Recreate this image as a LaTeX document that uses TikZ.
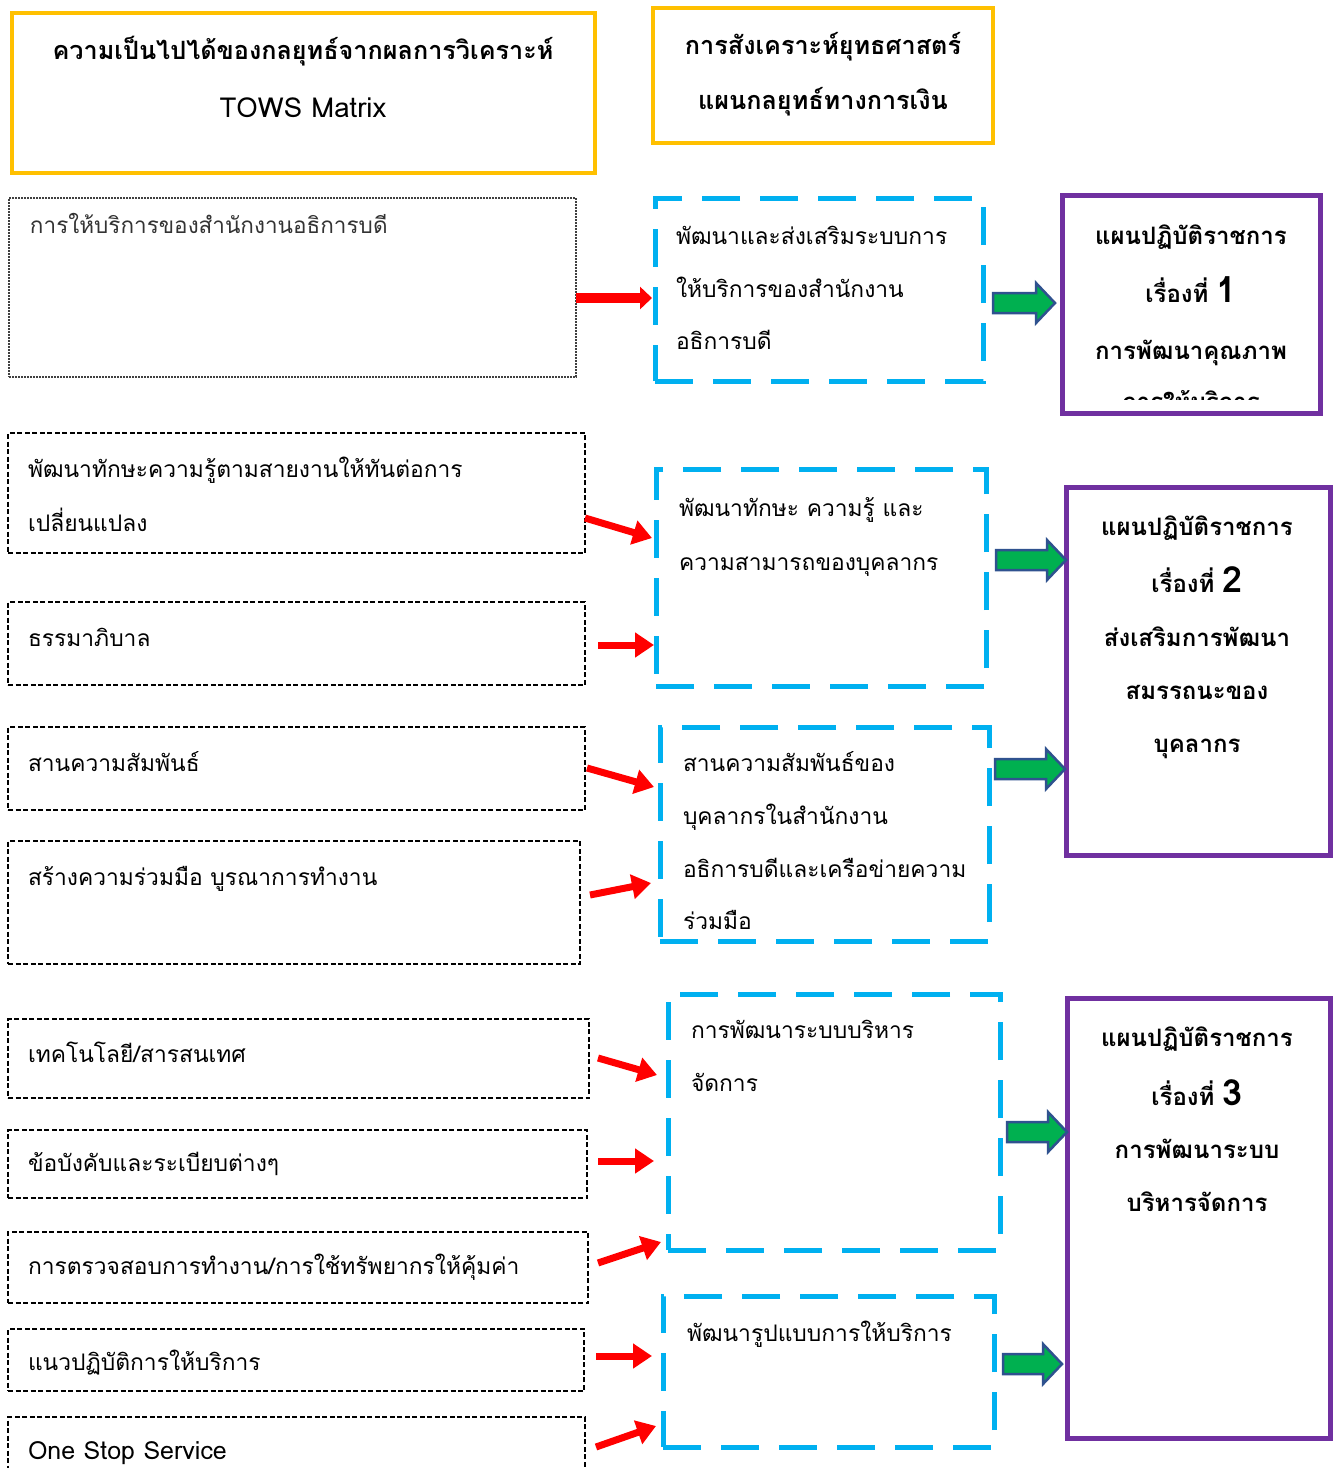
\documentclass[tikz,border=0pt]{standalone}
\usepackage{fontspec}
\newfontfamily\thai[Script=Thai]{Loma}
\usetikzlibrary{arrows.meta}
\definecolor{tyellow}{HTML}{FFC000}
\definecolor{tcyan}{HTML}{00B0F0}
\definecolor{tpurple}{HTML}{7030A0}
\definecolor{tgreen}{HTML}{00B050}
\definecolor{tgline}{HTML}{2F528F}
\definecolor{tred}{HTML}{FF0000}
\newcommand\garrow[4]{%
  \coordinate (#1s) at (#2,#4); \coordinate (#1e) at (#3,#4);
  \filldraw[garrowst] (#2,#4-10) -- (#3-19,#4-10) -- (#3-19,#4-20) -- (#1e) -- (#3-19,#4+20) -- (#3-19,#4+10) -- (#2,#4+10) -- cycle;}
\begin{document}
\begin{tikzpicture}[x=1pt,y=-1pt,
  every node/.style={inner sep=0pt, outer sep=0pt},
  ybox/.style={draw=tyellow, line width=4.5pt, anchor=north west},
  cbox/.style={draw=tcyan, line width=5pt, dash pattern=on 38pt off 20pt, anchor=north west},
  pbox/.style={draw=tpurple, line width=5pt, anchor=north west},
  lbox/.style={draw=black, line width=1.3pt, dash pattern=on 5pt off 2.5pt, anchor=north west},
  gbox/.style={draw=black!75, line width=2.2pt, dash pattern=on 2pt off 1pt, anchor=north west},
  txt/.style={anchor=base west, font=\thai\fontsize{22.8}{28}\selectfont},
  stxt/.style={anchor=base west, font=\thai\fontsize{22.5}{26}\selectfont, text=black!80},
  htxt/.style={anchor=base, font=\thai\bfseries\fontsize{24}{28}\selectfont},
  hhtxt/.style={anchor=base, font=\thai\bfseries\fontsize{25.2}{28}\selectfont},
  redarr/.style={draw=tred, line width=7pt, -{Triangle[length=19pt,width=24pt]}},
  garrowst/.style={fill=tgreen, draw=tgline, line width=2.5pt},
]
\useasboundingbox (0,0) rectangle (1339,1468);
\fill[white] (0,0) rectangle (1339,1468);

% header boxes
\node[ybox, minimum width=583pt, minimum height=160pt] (Y1) at (12,13) {};
\node[hhtxt] (Y1a) at (303,59) {ความเป็นไปได้ของกลยุทธ์จากผลการวิเคราะห์};
\node[anchor=base, font=\thai\fontsize{27.5}{30}\selectfont] (Y1b) at (303,117) {TOWS Matrix};
\node[ybox, minimum width=340pt, minimum height=135pt] (Y2) at (653,8) {};
\node[hhtxt] (Y2a) at (823,54) {การสังเคราะห์ยุทธศาสตร์};
\node[hhtxt] (Y2b) at (823,109) {แผนกลยุทธ์ทางการเงิน};

% left boxes
\node[gbox, minimum width=567pt, minimum height=179pt] (L1) at (9,198) {};
\node[stxt] (L1t) at (30,233) {การให้บริการของสำนักงานอธิการบดี};
\node[lbox, minimum width=577pt, minimum height=120pt] (L2) at (8,433) {};
\node[txt] (L2a) at (28,477) {พัฒนาทักษะความรู้ตามสายงานให้ทันต่อการ};
\node[txt] (L2b) at (28,531) {เปลี่ยนแปลง};
\node[lbox, minimum width=577pt, minimum height=83pt] (L3) at (8,602) {};
\node[txt] (L3t) at (28,646) {ธรรมาภิบาล};
\node[lbox, minimum width=577pt, minimum height=83pt] (L4) at (8,727) {};
\node[txt] (L4t) at (28,771) {สานความสัมพันธ์};
\node[lbox, minimum width=572pt, minimum height=123pt] (L5) at (8,841) {};
\node[txt] (L5t) at (28,885) {สร้างความร่วมมือ บูรณาการทำงาน};
\node[lbox, minimum width=581pt, minimum height=79pt] (L6) at (8,1019) {};
\node[txt] (L6t) at (28,1062) {เทคโนโลยี/สารสนเทศ};
\node[lbox, minimum width=579pt, minimum height=68pt] (L7) at (8,1130) {};
\node[txt] (L7t) at (28,1171) {ข้อบังคับและระเบียบต่างๆ};
\node[lbox, minimum width=580pt, minimum height=71pt] (L8) at (8,1232) {};
\node[txt] (L8t) at (28,1274) {การตรวจสอบการทำงาน/การใช้ทรัพยากรให้คุ้มค่า};
\node[lbox, minimum width=576pt, minimum height=62pt] (L9) at (8,1329) {};
\node[txt] (L9t) at (28,1370) {แนวปฏิบัติการให้บริการ};
\node[lbox, minimum width=577pt, minimum height=80pt] (L10) at (8,1417) {};
\node[anchor=base west, font=\thai\fontsize{25}{28}\selectfont] (L10t) at (28,1459) {One Stop Service};

% cyan boxes
\node[cbox, minimum width=328pt, minimum height=183pt] (C1) at (655,198) {};
\node[txt] (C1a) at (676,244) {พัฒนาและส่งเสริมระบบการ};
\node[txt] (C1b) at (676,297) {ให้บริการของสำนักงาน};
\node[txt] (C1c) at (676,349) {อธิการบดี};
\node[cbox, minimum width=330pt, minimum height=217pt] (C2) at (656,469) {};
\node[txt] (C2a) at (679,516) {พัฒนาทักษะ ความรู้ และ};
\node[txt] (C2b) at (679,570) {ความสามารถของบุคลากร};
\node[cbox, minimum width=329pt, minimum height=214pt] (C3) at (660,727) {};
\node[txt] (C3a) at (683,771) {สานความสัมพันธ์ของ};
\node[txt] (C3b) at (683,824) {บุคลากรในสำนักงาน};
\node[txt] (C3c) at (683,877) {อธิการบดีและเครือข่ายความ};
\node[txt] (C3d) at (683,929) {ร่วมมือ};
\node[cbox, minimum width=332pt, minimum height=256pt] (C4) at (668,994) {};
\node[txt] (C4a) at (691,1038) {การพัฒนาระบบบริหาร};
\node[txt] (C4b) at (691,1091) {จัดการ};
\node[cbox, minimum width=331pt, minimum height=151pt] (C5) at (663,1296) {};
\node[txt] (C5a) at (687,1341) {พัฒนารูปแบบการให้บริการ};

% purple boxes
\node[pbox, minimum width=258pt, minimum height=218pt] (P1) at (1062,195) {};
\node[htxt] (P1a) at (1191,244) {แผนปฏิบัติราชการ};
\node[htxt] (P1b) at (1191,302) {เรื่องที่ \textbf{\fontsize{36}{38}\selectfont 1}};
\node[htxt] (P1c) at (1191,359) {การพัฒนาคุณภาพ};
\begin{scope}
  \clip (1065,198) rectangle (1317,399);
  \node[htxt] (P1d) at (1191,410) {การให้บริการ};
\end{scope}
\node[pbox, minimum width=264pt, minimum height=368pt] (P2) at (1066,487) {};
\node[htxt] (P2a) at (1197,535) {แผนปฏิบัติราชการ};
\node[htxt] (P2b) at (1197,592) {เรื่องที่ \textbf{\fontsize{36}{38}\selectfont 2}};
\node[htxt] (P2c) at (1197,646) {ส่งเสริมการพัฒนา};
\node[htxt] (P2d) at (1197,699) {สมรรถนะของ};
\node[htxt] (P2e) at (1197,752) {บุคลากร};
\node[pbox, minimum width=263pt, minimum height=440pt] (P3) at (1067,998) {};
\node[htxt] (P3a) at (1197,1046) {แผนปฏิบัติราชการ};
\node[htxt] (P3b) at (1197,1105) {เรื่องที่ \textbf{\fontsize{36}{38}\selectfont 3}};
\node[htxt] (P3c) at (1197,1158) {การพัฒนาระบบ};
\node[htxt] (P3d) at (1197,1211) {บริหารจัดการ};

% red arrows
\draw[redarr, line width=10pt, -{Triangle[length=12pt,width=22pt]}] (576,298) -- (652,298);
\draw[redarr] (585,518) -- (652,538);
\draw[redarr] (598,645) -- (654,645);
\draw[redarr] (587,768) -- (654,787);
\draw[redarr] (590,895) -- (651,883);
\draw[redarr] (598,1058) -- (657,1075);
\draw[redarr] (598,1161) -- (654,1161);
\draw[redarr] (598,1263) -- (661,1242);
\draw[redarr] (596,1356) -- (652,1356);
\draw[redarr] (596,1447) -- (656,1426);

% green arrows
\garrow{G1}{993}{1055}{303}
\garrow{G2}{996}{1066}{560}
\garrow{G3}{995}{1065}{769}
\garrow{G4}{1007}{1067}{1132}
\garrow{G5}{1003}{1062}{1364}
\end{tikzpicture}
\end{document}
